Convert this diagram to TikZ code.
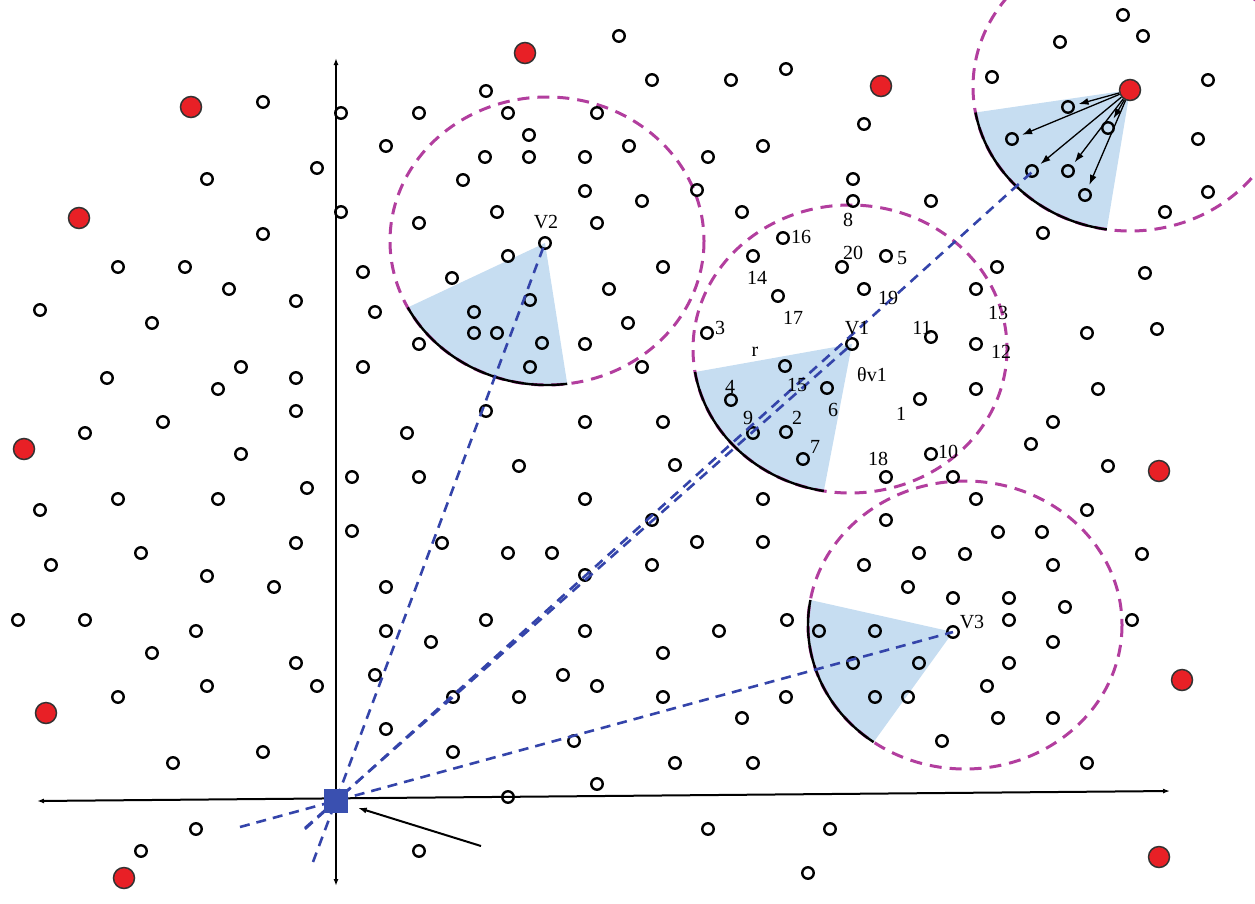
\documentclass[tikz,border=0pt]{standalone}
\usepackage{fontspec}
\setmainfont{Liberation Serif}
\usetikzlibrary{arrows.meta}
\definecolor{dmag}{RGB}{178,62,158}
\definecolor{dblue}{RGB}{52,68,170}
\definecolor{secfill}{RGB}{198,221,241}
\definecolor{rednode}{RGB}{232,32,38}
\definecolor{sinkblue}{RGB}{58,80,176}
\begin{document}
\begin{tikzpicture}[x=1pt,y=-1pt,
 sn/.style={circle,draw=black,line width=2.4pt,minimum size=11.5pt,inner sep=0pt},
 rn/.style={circle,draw=black!80,fill=rednode,line width=1.5pt,minimum size=21pt,inner sep=0pt},
 sinknode/.style={rectangle,fill=sinkblue,minimum size=24pt,inner sep=0pt},
 lab/.style={font=\fontsize{20}{22}\selectfont,inner sep=0pt},
 rangec/.style={draw=dmag,dash pattern=on 12pt off 8pt,line width=3pt},
 sector/.style={fill=secfill},
 secarc/.style={draw=black,line width=2.4pt},
 bl/.style={draw=dblue,dash pattern=on 10pt off 7pt,line width=2.6pt},
 axisline/.style={draw=black,line width=2pt,{Latex[length=7pt,width=5pt]}-{Latex[length=7pt,width=5pt]}},
 arr/.style={draw=black,-{Latex[length=10pt,width=7pt]},line width=1.3pt,shorten >=4pt}]
\useasboundingbox (0,0) rectangle (1255,903);

% centres of the sensing ranges
\coordinate (c2) at (547,241);
\coordinate (c1) at (850,349);
\coordinate (c3) at (965,625);
\coordinate (c4) at (1130,87);

\begin{scope}
\clip (0,0) rectangle (1255,903);
% sectors
\fill[sector] (c2) ++(152.5:157 and 144) arc[start angle=152.5,end angle=82.6,x radius=157,y radius=144] -- (545,243) -- cycle;
\fill[sector] (c1) ++(170.8:157 and 144) arc[start angle=170.8,end angle=99.6,x radius=157,y radius=144] -- (852,344) -- cycle;
\fill[sector] (c3) ++(190:157 and 144) arc[start angle=190,end angle=125.6,x radius=157,y radius=144] -- (953,632) -- cycle;
\fill[sector] (c4) ++(169.8:157 and 144) arc[start angle=169.8,end angle=98.5,x radius=157,y radius=144] -- (1130,90) -- cycle;
% dashed ranges
\draw[rangec] (c2) ellipse [x radius=157,y radius=144];
\draw[rangec] (c1) ellipse [x radius=157,y radius=144];
\draw[rangec] (c3) ellipse [x radius=157,y radius=144];
\draw[rangec] (c4) ellipse [x radius=157,y radius=144];
% solid arcs of the sectors
\draw[secarc] (c2) ++(152.5:157 and 144) arc[start angle=152.5,end angle=82.6,x radius=157,y radius=144];
\draw[secarc] (c1) ++(170.8:157 and 144) arc[start angle=170.8,end angle=99.6,x radius=157,y radius=144];
\draw[secarc] (c3) ++(190:157 and 144) arc[start angle=190,end angle=125.6,x radius=157,y radius=144];
\draw[secarc] (c4) ++(169.8:157 and 144) arc[start angle=169.8,end angle=98.5,x radius=157,y radius=144];
\end{scope}

% axes
\coordinate (xl) at (37,801);
\coordinate (xr) at (1170,791);
\coordinate (yb) at (336,886);
\coordinate (yt) at (336,58);
\draw[axisline] (xl) -- (xr);
\draw[axisline] (yb) -- (yt);

% small sensor nodes
\foreach \px/\py [count=\i] in {
263/102,317/168,207/179,263/234,118/267,185/267,229/289,296/301,40/310,
152/323,107/378,241/367,218/389,296/378,296/411,163/422,85/433,241/454,307/488,40/510,118/499,218/499,296/543,51/565,141/553,207/576,274/587,
18/620,85/620,196/631,152/653,296/663,317/686,118/697,207/686,173/763,263/752,196/829,141/851,
341/113,419/113,486/91,508/113,597/113,529/135,386/146,485/157,529/157,585/157,463/180,585/191,341/212,497/212,419/223,597/223,508/256,363/272,452/278,609/289,530/300,375/312,474/312,474/333,497/333,542/343,419/344,585/344,628/323,363/367,530/367,
619/36,652/80,731/80,786/69,864/124,629/146,708/157,763/146,642/201,697/190,742/212,853/179,853/201,931/201,663/267,753/256,783/238,842/267,886/256,864/289,778/296,
1123/15,1143/36,1060/42,992/77,1208/80,1198/139,1208/192,1165/212,1043/233,997/267,976/289,1145/273,
707/333,642/367,785/366,731/400,827/388,931/337,920/399,663/422,753/433,786/432,803/459,675/465,886/477,931/454,976/344,976/389,1087/333,1157/329,1098/389,1053/422,1031/444,1108/466,953/477,976/499,1087/510,998/532,1042/532,965/554,1053/565,1142/554,
763/499,652/520,886/520,697/542,763/542,652/565,864/565,919/553,908/587,
486/411,585/422,407/433,519/466,352/477,419/477,585/499,352/531,442/543,508/553,552/553,585/575,386/587,
953/598,1009/598,1065/607,1009/620,1132/620,1053/642,1009/663,987/686,998/718,1053/718,942/741,1087/763,
787/620,719/631,819/631,875/631,663/653,853/663,919/663,663/697,786/697,875/697,908/697,742/718,675/763,753/763,708/829,830/829,808/873,
386/631,431/642,486/620,585/631,375/675,453/697,519/697,563/675,597/686,386/729,453/752,574/741,597/784,508/797,419/851}
  \node[sn] (s\i) at (\px,\py) {};

% named nodes
\node[sn] (V2) at (545,243) {};
\node[sn] (V1) at (852,344) {};
\node[sn] (V3) at (953,632) {};
\node[sn] (a1) at (1068,107) {};
\node[sn] (a2) at (1012,139) {};
\node[sn] (a3) at (1032,171) {};
\node[sn] (a4) at (1068,171) {};
\node[sn] (a5) at (1085,195) {};
\node[sn] (a6) at (1108,128) {};

% red nodes
\node[rn] (r1) at (191,107) {};
\node[rn] (r2) at (79,218) {};
\node[rn] (r3) at (24,449) {};
\node[rn] (r4) at (46,713) {};
\node[rn] (r5) at (124,878) {};
\node[rn] (r6) at (525,53) {};
\node[rn] (r7) at (881,86) {};
\node[rn] (TR) at (1130,90) {};
\node[rn] (r9) at (1159,471) {};
\node[rn] (r10) at (1182,680) {};
\node[rn] (r11) at (1159,857) {};

% sink
\coordinate (e2) at (313,862);
\coordinate (e1) at (305,828);
\coordinate (e3) at (240,827);
\coordinate (e4) at (305,829);
\coordinate (trp) at (1032,172);
\draw[bl] (e2) -- (V2.center);
\draw[bl] (e1) -- (V1.center);
\draw[bl] (e3) -- (V3.center);
\draw[bl] (e4) -- (trp);
\node[sinknode] (sink) at (336,801) {};
\coordinate (bp) at (481,846);
\draw[line width=2pt,-{Latex[length=9pt,width=6pt]},shorten >=10pt] (bp) -- (sink);

% arrows from the top-right node
\foreach \t in {a1,a2,a3,a4,a5,a6}
  \draw[arr] (TR) -- (\t);

% labels
\node[lab] (lV2) at (546,222) {V2};
\node[lab] (lV1) at (857,328) {V1};
\node[lab] (lV3) at (972,622) {V3};
\node[lab] (l16) at (801,237) {16};
\node[lab] (l8) at (848,220) {8};
\node[lab] (l20) at (853,253) {20};
\node[lab] (l5) at (902,258) {5};
\node[lab] (l14) at (757,278) {14};
\node[lab] (l19) at (888,298) {19};
\node[lab] (l17) at (793,318) {17};
\node[lab] (l3) at (720,328) {3};
\node[lab] (l11) at (922,328) {11};
\node[lab] (l13) at (998,313) {13};
\node[lab] (l12) at (1001,352) {12};
\node[lab] (lr) at (755,352) {r};
\node[lab] (lth) at (872,375) {θv1};
\node[lab] (l4) at (730,387) {4};
\node[lab] (l15) at (797,385) {15};
\node[lab] (l6) at (833,410) {6};
\node[lab] (l2) at (797,418) {2};
\node[lab] (l1) at (901,414) {1};
\node[lab] (l9) at (748,418) {9};
\node[lab] (l7) at (815,447) {7};
\node[lab] (l18) at (878,459) {18};
\node[lab] (l10) at (948,452) {10};
\end{tikzpicture}
\end{document}
